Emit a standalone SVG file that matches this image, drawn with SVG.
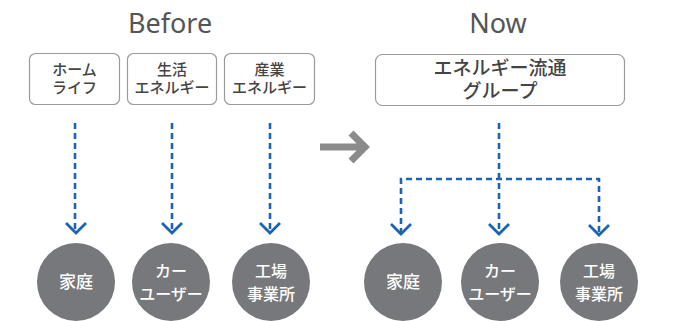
<svg xmlns="http://www.w3.org/2000/svg" width="685" height="321" viewBox="0 0 685 321">
<defs>
<style>
.title{font-family:"Noto Sans","Noto Sans CJK JP",sans-serif;font-size:27px;fill:#555;text-anchor:middle}
.box{fill:#fff;stroke:#9a9a9a;stroke-width:1.2}
.bt{font-family:"Noto Sans CJK JP",sans-serif;font-size:15px;font-weight:500;fill:#444;text-anchor:middle}
.bt2{font-family:"Noto Sans CJK JP",sans-serif;font-size:19px;font-weight:500;fill:#444;text-anchor:middle}
.circ{fill:#77787b}
.ct{font-family:"Noto Sans CJK JP",sans-serif;font-size:16px;font-weight:500;fill:#fff;text-anchor:middle}
.ct1{font-family:"Noto Sans CJK JP",sans-serif;font-size:17px;font-weight:500;fill:#fff;text-anchor:middle}
.dash{fill:none;stroke:#1b63b3;stroke-width:2.6;stroke-dasharray:6 4}
.chev{fill:none;stroke:#1b63b3;stroke-width:2.8}
</style>
</defs>
<text class="title" x="170" y="33">Before</text>
<text class="title" x="498" y="33">Now</text>

<g id="b1"><rect class="box" x="29.5" y="53.5" width="90" height="51" rx="6"/><text class="bt" x="74.5" y="75">ホーム</text><text class="bt" x="74.5" y="93">ライフ</text></g>
<g id="b2"><rect class="box" x="127.5" y="53.5" width="89" height="51" rx="6"/><text class="bt" x="172" y="75">生活</text><text class="bt" x="172" y="93">エネルギー</text></g>
<g id="b3"><rect class="box" x="224.5" y="53.5" width="90" height="51" rx="6"/><text class="bt" x="269.5" y="75">産業</text><text class="bt" x="269.5" y="93">エネルギー</text></g>
<g id="n0"><rect class="box" x="375.5" y="54.5" width="249" height="51" rx="7"/><text class="bt2" x="500" y="75">エネルギー流通</text><text class="bt2" x="500" y="98">グループ</text></g>

<g id="c1"><circle class="circ" cx="76" cy="282" r="39"/><text class="ct1" x="76" y="288">家庭</text></g>
<g id="c2"><circle class="circ" cx="171" cy="282" r="39"/><text class="ct" x="171" y="277">カー</text><text class="ct" x="171" y="300">ユーザー</text></g>
<g id="c3"><circle class="circ" cx="271" cy="282" r="39"/><text class="ct" x="271" y="277">工場</text><text class="ct" x="271" y="300">事業所</text></g>
<g id="c4"><circle class="circ" cx="403" cy="282" r="39"/><text class="ct1" x="403" y="288">家庭</text></g>
<g id="c5"><circle class="circ" cx="500" cy="282" r="39"/><text class="ct" x="500" y="277">カー</text><text class="ct" x="500" y="300">ユーザー</text></g>
<g id="c6"><circle class="circ" cx="599" cy="282" r="39"/><text class="ct" x="599" y="277">工場</text><text class="ct" x="599" y="300">事業所</text></g>

<g id="arrow"><path d="M320 147H364M351 133L365 147L351 161" fill="none" stroke="#8b8b8b" stroke-width="7"/></g>

<g id="connectors">
<path class="dash" d="M75 123V231"/>
<path class="dash" d="M172 123V231"/>
<path class="dash" d="M270 123V231"/>
<path class="chev" d="M66 223L76 233L86 223"/>
<path class="chev" d="M162 223L172 233L182 223"/>
<path class="chev" d="M260 223L270 233L280 223"/>
<path class="dash" d="M499 123V233"/>
<path class="dash" d="M401 234V179H599V234"/>
<path class="chev" d="M391 224L401 234L411 224"/>
<path class="chev" d="M489 224L499 234L509 224"/>
<path class="chev" d="M589 225L599 235L609 225"/>
</g>
</svg>
